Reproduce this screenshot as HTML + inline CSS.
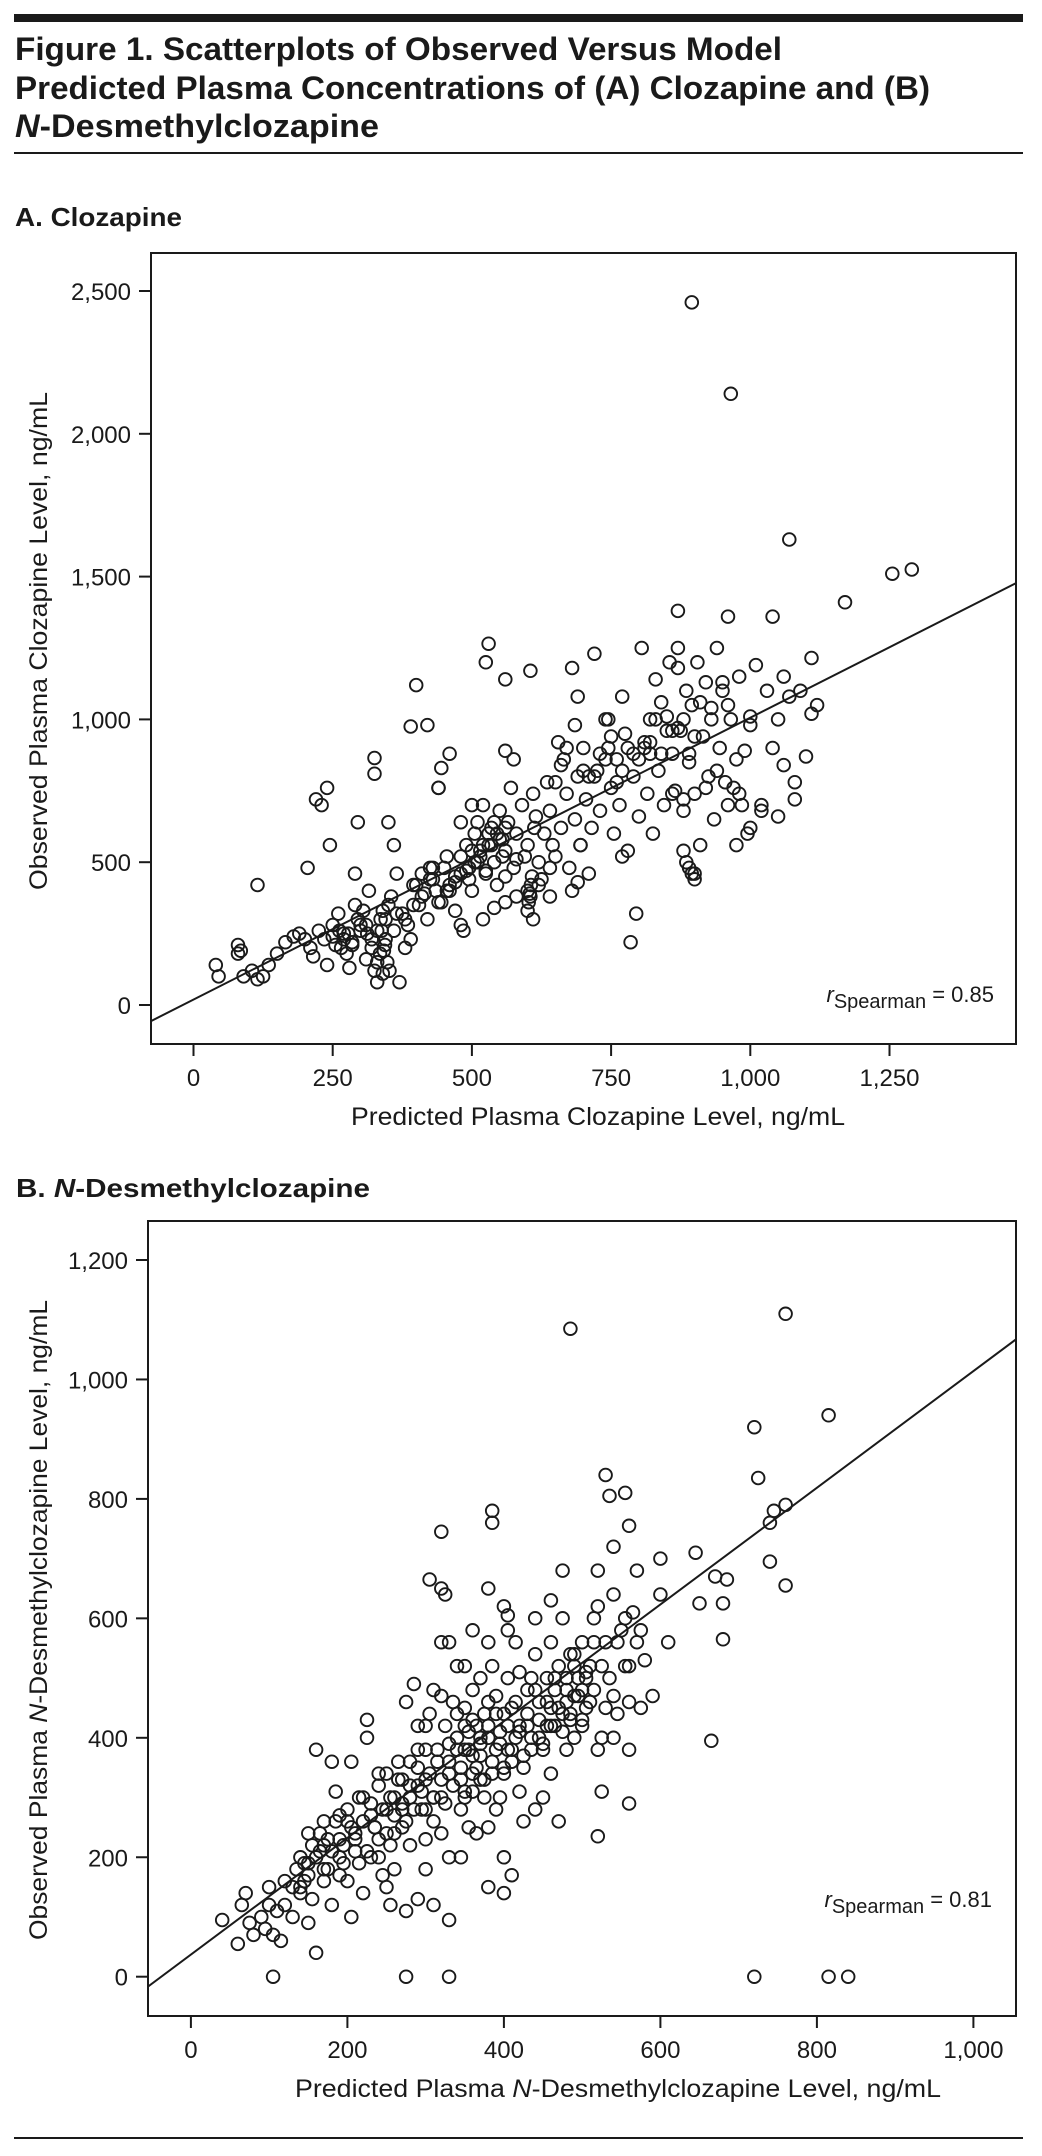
<!DOCTYPE html>
<html><head><meta charset="utf-8"><style>
html,body{margin:0;padding:0;background:#fff;}
svg{display:block;font-family:"Liberation Sans",sans-serif;}
</style></head><body>
<svg id="fig" width="1042" height="2156" viewBox="0 0 1042 2156" xmlns="http://www.w3.org/2000/svg">
<rect x="14" y="14" width="1009" height="8" fill="#1a1a1a"/>
<g font-weight="bold" font-size="32" fill="#1a1a1a">
<text x="15" y="60" textLength="767" lengthAdjust="spacingAndGlyphs">Figure 1. Scatterplots of Observed Versus Model</text>
<text x="15" y="99" textLength="915" lengthAdjust="spacingAndGlyphs">Predicted Plasma Concentrations of (A) Clozapine and (B)</text>
<text x="15" y="137" textLength="364" lengthAdjust="spacingAndGlyphs"><tspan font-style="italic">N</tspan>-Desmethylclozapine</text>
</g>
<rect x="14" y="152" width="1009" height="2" fill="#1a1a1a"/>
<text x="15" y="226" font-size="26" font-weight="bold" fill="#1a1a1a" textLength="167" lengthAdjust="spacingAndGlyphs">A. Clozapine</text>
<text x="16" y="1197" font-size="26" font-weight="bold" fill="#1a1a1a" textLength="354" lengthAdjust="spacingAndGlyphs">B. <tspan font-style="italic">N</tspan>-Desmethylclozapine</text>
<rect x="14" y="2137" width="1009" height="2" fill="#1a1a1a"/>
<g id="pa"></g>
<g id="pb"></g>
<g fill="#1a1a1a" font-size="25">
<text x="598" y="1125" text-anchor="middle" textLength="494" lengthAdjust="spacingAndGlyphs">Predicted Plasma Clozapine Level, ng/mL</text>
<text transform="translate(47,641) rotate(-90)" text-anchor="middle" textLength="498" lengthAdjust="spacingAndGlyphs">Observed Plasma Clozapine Level, ng/mL</text>
<text x="994" y="1002" text-anchor="end" font-size="22"><tspan font-style="italic">r</tspan><tspan font-size="20" dy="6">Spearman</tspan><tspan dy="-6"> = 0.85</tspan></text>
<text x="618" y="2097" text-anchor="middle" textLength="646" lengthAdjust="spacingAndGlyphs">Predicted Plasma <tspan font-style="italic">N</tspan>-Desmethylclozapine Level, ng/mL</text>
<text transform="translate(47,1620) rotate(-90)" text-anchor="middle" textLength="640" lengthAdjust="spacingAndGlyphs">Observed Plasma <tspan font-style="italic">N</tspan>-Desmethylclozapine Level, ng/mL</text>
<text x="992" y="1907" text-anchor="end" font-size="22"><tspan font-style="italic">r</tspan><tspan font-size="20" dy="6">Spearman</tspan><tspan dy="-6"> = 0.81</tspan></text>
</g>
</svg>
<script>
// Panel A data (ng/mL)
const aPredicted = [895,965,1070,1255,1290,1170,870,960,1040,1110,530,525,560,605,390,325,325,445,440,560,575,115,205,245,290,350,360,40,45,80,85,80,90,105,115,125,135,150,165,180,190,200,210,215,225,235,240,250,260,265,270,275,280,285,290,295,300,310,315,320,325,330,335,330,340,345,345,355,365,370,375,385,380,390,395,405,410,420,425,430,435,445,455,460,470,480,485,490,495,500,505,510,515,520,525,530,535,540,545,550,555,560,565,570,575,580,590,595,600,605,610,615,620,625,630,635,640,645,650,655,660,665,670,675,680,685,690,695,700,705,710,715,720,725,730,740,745,750,755,760,765,770,775,780,785,790,795,800,805,810,815,820,825,830,835,840,845,850,855,860,865,870,875,880,885,890,895,900,905,910,915,920,925,930,935,940,945,950,955,960,965,970,975,980,985,990,1000,1010,1020,1030,1040,1050,1060,1070,1080,1090,1100,1110,1120,1060,1000,880,860,900,870,820,770,690,640,
250,255,262,270,278,300,305,312,338,342,348,352,336,344,350,340,400,410,415,430,450,460,470,480,490,500,510,520,530,540,550,560,505,515,525,535,545,555,600,602,604,606,608,610,612,560,580,470,480,495,425,440,455,380,395,360,365,310,320,330,285,295,230,240,220,700,720,740,760,780,800,820,840,860,880,900,920,940,960,980,710,730,750,770,790,810,830,850,870,890,910,930,950,975,995,1000,1020,1050,1080,650,660,670,685,695,880,885,890,895,900,640,620,600,580,560,540,520,500,480,460,440,420,400,680,690,745,760,775,880,900,930,960];
const aObserved = [2460,2140,1630,1510,1525,1410,1380,1360,1360,1215,1265,1200,1140,1170,975,865,810,830,760,890,860,420,480,560,460,640,560,140,100,210,190,180,100,120,90,100,140,180,220,240,250,230,200,170,260,230,140,280,320,200,250,180,130,220,350,300,260,160,400,200,120,150,180,80,110,230,300,380,460,80,320,280,200,230,420,350,380,300,440,480,400,360,520,420,330,280,260,560,480,400,600,640,520,700,460,560,620,500,420,680,580,540,640,760,480,600,700,520,560,380,740,660,500,440,600,780,680,560,520,920,620,860,740,480,400,650,800,560,900,720,460,620,1230,820,680,1000,900,760,600,860,700,1080,950,540,220,800,320,660,1250,900,740,1000,600,1140,820,1060,700,960,1200,880,750,1180,960,680,1100,850,1050,740,1200,560,940,1130,800,1000,650,1250,900,1130,780,1050,1000,760,860,1150,700,890,980,1190,680,1100,900,1000,840,1080,780,1100,870,1020,1050,1150,1010,720,740,460,1250,880,520,430,380,
240,210,260,230,250,280,330,250,260,190,150,120,300,210,350,330,420,460,390,440,480,400,450,520,470,540,500,560,600,640,580,620,500,540,470,560,600,520,330,360,390,420,450,300,620,450,510,430,460,440,480,360,400,300,350,260,320,280,230,260,210,640,700,760,720,820,800,860,780,900,860,920,880,960,1000,940,760,820,700,740,800,880,940,820,880,920,1000,1010,970,880,1060,1040,1100,560,600,620,700,660,720,780,840,900,980,560,540,500,480,460,440,480,420,400,380,360,340,300,700,640,880,760,980,1120,1180,1080,1000];
// Panel B data (ng/mL)
const bPredicted = [485,760,815,720,725,745,760,740,760,740,685,680,680,665,650,670,645,600,560,570,530,535,540,555,520,515,520,525,560,720,815,840,105,275,330,320,305,320,325,385,385,360,405,405,380,460,475,410,400,380,330,310,290,275,255,205,160,115,105,80,60,65,70,75,40,95,100,120,130,135,140,145,150,155,160,165,170,175,180,185,190,195,200,205,210,215,220,225,225,230,235,240,245,250,255,260,265,270,275,280,285,290,295,300,305,310,315,320,325,330,335,340,345,350,355,360,365,370,375,380,385,390,395,400,405,410,415,420,425,430,435,440,445,450,455,460,465,470,475,480,485,490,495,500,505,510,515,520,525,530,535,540,545,550,555,560,565,570,575,580,590,600,610,560,350,330,300,280,260,240,220,200,190,180,170,150,140,250,360,370,380,400,420,440,460,480,500,520,540,470,490,430,410,390,370,350,340,320,300,345,355,375,395,415,360,330,310,290,270,250,230,210,190,170,150,130,120,110,100,90,300,320,280,260,240,400,440,460,480,500,515,450,490,530,545,560,575,420,380,350,330,270,290,310,380,390,400,350,345,365,300,320,340,360,370,385,405,425,445,465,485,505,525,540,555,435,455,475,
140,145,150,155,160,165,170,175,180,185,190,195,200,205,210,215,220,225,230,235,240,245,250,255,260,265,270,275,280,285,290,295,300,305,310,315,320,325,330,335,340,345,350,355,360,365,370,375,380,385,390,395,400,405,410,415,420,425,430,435,440,445,450,455,460,465,470,475,480,485,490,495,500,505,510];
const bObserved = [1085,1110,940,920,835,780,790,760,655,695,665,625,565,395,625,670,710,700,755,680,840,805,720,810,680,600,235,310,290,0,0,0,0,0,0,745,665,650,640,780,760,580,605,580,650,630,680,170,140,150,95,120,130,110,120,100,40,60,70,70,55,120,140,90,95,80,150,120,100,180,200,160,240,130,380,210,260,180,360,310,270,220,160,360,240,190,300,400,430,200,250,340,170,280,220,180,360,250,460,300,490,380,280,330,440,260,360,300,420,200,460,380,330,420,250,480,350,400,300,460,520,380,300,440,500,360,560,420,260,480,380,540,460,300,500,560,420,520,600,460,540,400,500,560,450,520,480,620,400,560,500,640,440,580,520,460,610,560,450,530,470,640,560,380,300,340,230,360,300,230,140,260,200,120,160,90,140,150,370,330,420,340,310,280,340,380,420,380,400,260,470,420,450,470,500,380,520,560,420,280,410,440,410,400,310,390,300,320,280,340,270,210,170,220,190,150,160,110,120,100,380,470,220,240,200,620,600,450,500,480,560,380,540,450,560,520,580,510,560,520,560,330,420,480,250,280,200,450,200,240,180,240,440,430,390,340,380,350,400,480,430,510,520,470,600,500,420,440,
150,190,170,220,200,240,180,230,210,260,230,190,280,250,230,300,260,210,290,250,320,280,240,300,270,330,290,260,320,280,350,310,280,340,300,380,330,290,360,320,400,350,310,380,340,420,370,330,400,360,440,390,350,420,380,460,410,370,440,400,480,430,390,460,420,500,450,410,480,440,520,470,430,500,460];
const aXTicks = [0,250,500,750,1000,1250];
const aXTickLabels = ["0","250","500","750","1,000","1,250"];
const aYTicks = [0,500,1000,1500,2000,2500];
const aYTickLabels = ["0","500","1,000","1,500","2,000","2,500"];
const bXTicks = [0,200,400,600,800,1000];
const bXTickLabels = ["0","200","400","600","800","1,000"];
const bYTicks = [0,200,400,600,800,1000,1200];
const bYTickLabels = ["0","200","400","600","800","1,000","1,200"];
const aFit = [19, 0.987];
const bFit = [37, 0.977];

const NS = "http://www.w3.org/2000/svg";
function mk(tag, attrs, parent){const e=document.createElementNS(NS,tag);for(const k in attrs)e.setAttribute(k,attrs[k]);parent.appendChild(e);return e;}

function drawPanel(g, cfg){
  const sx = v => cfg.x0 + v*cfg.kx;
  const sy = v => cfg.y0 - v*cfg.ky;
  const xmin=(cfg.left-cfg.x0)/cfg.kx, xmax=(cfg.right-cfg.x0)/cfg.kx;
  const pg = mk('g',{},g);
  
  
  const n = Math.min(cfg.px.length, cfg.py.length);
  for(let i=0;i<n;i++){
    const c = mk('circle',{cx:sx(cfg.px[i]).toFixed(1),cy:sy(cfg.py[i]).toFixed(1),r:6.3,fill:'none',stroke:'#1a1a1a','stroke-width':1.9},pg);
    
    
  }
  const clipId = cfg.id+'-clip';
  const defs = mk('defs',{},g);
  const cp = mk('clipPath',{id:clipId},defs);
  mk('rect',{x:cfg.left,y:cfg.top,width:cfg.right-cfg.left,height:cfg.bottom-cfg.top},cp);
  const ln = mk('line',{x1:sx(xmin),y1:sy(cfg.fit[0]+cfg.fit[1]*xmin),x2:sx(xmax),y2:sy(cfg.fit[0]+cfg.fit[1]*xmax),stroke:'#1a1a1a','stroke-width':2,'clip-path':'url(#'+clipId+')'},g);
  
  
  const fr = mk('rect',{x:cfg.left,y:cfg.top,width:cfg.right-cfg.left,height:cfg.bottom-cfg.top,fill:'none',stroke:'#1a1a1a','stroke-width':2},g);
  
  
  const xg = mk('g',{},g);
  
  
  cfg.xt.forEach((v,i)=>{
    mk('line',{x1:sx(v),x2:sx(v),y1:cfg.bottom,y2:cfg.bottom+12,stroke:'#1a1a1a','stroke-width':2},xg);
    const t = mk('text',{x:sx(v),y:cfg.bottom+42,'text-anchor':'middle','font-size':24,fill:'#1a1a1a'},xg);
    t.textContent = cfg.xl[i];
    
    
  });
  const yg = mk('g',{},g);
  
  
  cfg.yt.forEach((v,i)=>{
    mk('line',{x1:cfg.left-12,x2:cfg.left,y1:sy(v),y2:sy(v),stroke:'#1a1a1a','stroke-width':2},yg);
    const t = mk('text',{x:cfg.left-20,y:sy(v)+9,'text-anchor':'end','font-size':24,fill:'#1a1a1a'},yg);
    t.textContent = cfg.yl[i];
    
    
  });
}

const pa = document.getElementById('pa');
drawPanel(pa,{id:'pa',left:151,right:1016,top:253,bottom:1044,x0:193.5,kx:139.2/250,y0:1005,ky:142.8/500,px:aPredicted,py:aObserved,fit:aFit,xt:aXTicks,xl:aXTickLabels,yt:aYTicks,yl:aYTickLabels});
const pb = document.getElementById('pb');
drawPanel(pb,{id:'pb',left:148,right:1016,top:1221,bottom:2016,x0:190.9,kx:156.5/200,y0:1976.7,ky:716.7/1200,px:bPredicted,py:bObserved,fit:bFit,xt:bXTicks,xl:bXTickLabels,yt:bYTicks,yl:bYTickLabels});
</script>
</body></html>
